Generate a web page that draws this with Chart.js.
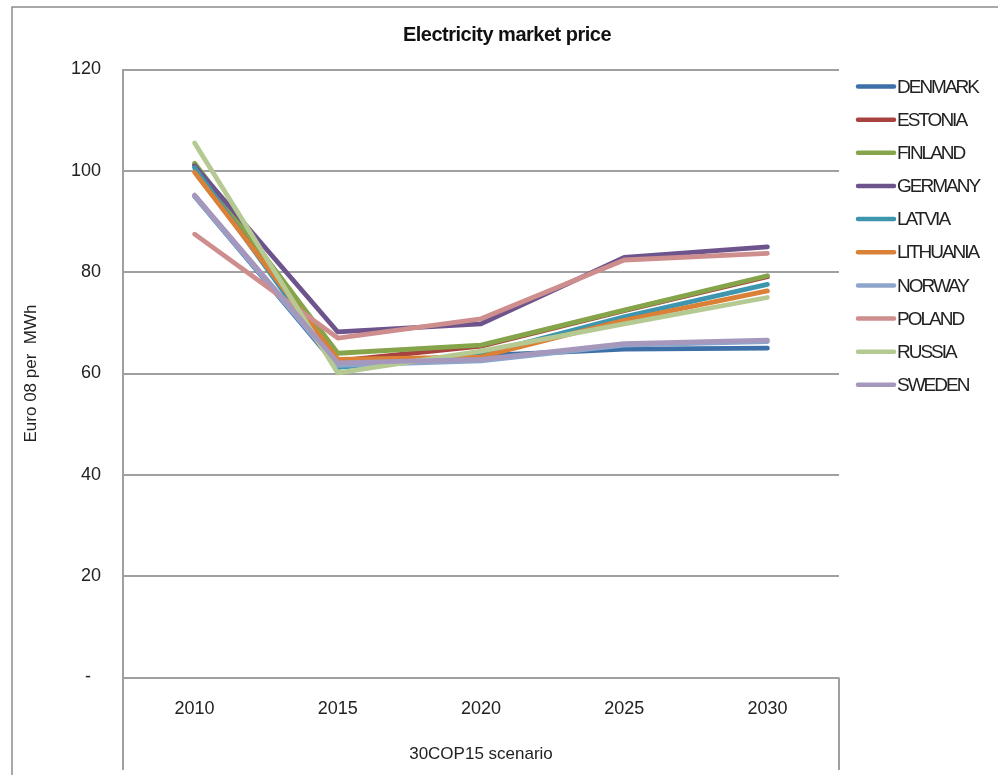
<!DOCTYPE html>
<html>
<head>
<meta charset="utf-8">
<title>Electricity market price</title>
<script src="https://cdn.jsdelivr.net/npm/chart.js@4.4.1/dist/chart.umd.min.js"></script>
<style>
    html, body { margin: 0; padding: 0; background: #fff; }
    canvas { display: block; }
</style>
</head>
<body>
<canvas id="priceChart" width="998" height="775"></canvas>
<script>
const years = ['2010', '2015', '2020', '2025', '2030'];

const denmark   = [95.0, 61.3, 63.5, 64.8, 65.0];
const estonia   = [101.2, 62.5, 65.4, 72.4, 79.1];
const finland   = [101.5, 64.0, 65.6, 72.5, 79.3];
const germany   = [101.0, 68.2, 69.8, 82.9, 85.0];
const latvia    = [100.6, 61.2, 63.8, 71.2, 77.6];
const lithuania = [99.7, 62.8, 63.3, 70.5, 76.3];
const norway    = [95.0, 61.6, 62.5, 65.6, 66.3];
const poland    = [87.5, 67.0, 70.8, 82.4, 83.7];
const russia    = [105.5, 60.1, 64.4, 69.8, 75.0];
const sweden    = [95.2, 62.1, 62.8, 65.9, 66.6];

const countries = ['DENMARK', 'ESTONIA', 'FINLAND', 'GERMANY', 'LATVIA',
    'LITHUANIA', 'NORWAY', 'POLAND', 'RUSSIA', 'SWEDEN'];
const seriesValues = [denmark, estonia, finland, germany, latvia,
    lithuania, norway, poland, russia, sweden];
const lineColors = ['#3d6fa8', '#a8423f', '#86a44a', '#6e548d', '#3d96ae',
    '#da8137', '#8ea5cb', '#ce8e8d', '#b5ca92', '#a598bc'];

const chartTitle = 'Electricity market price';
const yMin = 0;
const yMax = 120;
const yStep = 20;

const gridGrey = '#a0a0a0';
Chart.defaults.font.family = '"Liberation Sans", Arial, sans-serif';
Chart.defaults.color = '#222';

// title + legend drawn by hand so they can sit over the whole page width
const sideLegend = {
    id: 'sideLegend',
    afterDraw(chart) {
        const ctx = chart.ctx;
        const area = chart.chartArea;
        ctx.save();
        ctx.font = 'bold 20px "Liberation Sans", Arial, sans-serif';
        ctx.fillStyle = '#111';
        ctx.textAlign = 'center';
        ctx.textBaseline = 'middle';
        ctx.letterSpacing = '-0.5px';
        ctx.fillText(chartTitle, 507, 35);

        const x0 = area.right + 19;
        ctx.font = '19px "Liberation Sans", Arial, sans-serif';
        ctx.letterSpacing = '-2px';
        ctx.textAlign = 'left';
        ctx.fillStyle = '#222';
        chart.data.datasets.forEach((ds, i) => {
            const y = area.top + 17 + i * 33.15;
            ctx.strokeStyle = ds.borderColor;
            ctx.lineWidth = 4.5;
            ctx.lineCap = 'round';
            ctx.beginPath();
            ctx.moveTo(x0, y);
            ctx.lineTo(x0 + 36, y);
            ctx.stroke();
            ctx.fillText(ds.label, x0 + 39, y + 1);
        });
        ctx.restore();
    }
};

// outer frame and the axis lines that run down past the category labels
const frameLines = {
    id: 'frameLines',
    beforeDraw(chart) {
        const ctx = chart.ctx;
        const area = chart.chartArea;
        ctx.save();
        ctx.strokeStyle = '#8c8c8c';
        ctx.lineWidth = 1.5;
        ctx.beginPath();
        ctx.moveTo(chart.width, 7);
        ctx.lineTo(12, 7);
        ctx.lineTo(12, chart.height);
        ctx.stroke();
        ctx.strokeStyle = gridGrey;
        ctx.lineWidth = 2;
        ctx.beginPath();
        ctx.moveTo(area.left, area.bottom);
        ctx.lineTo(area.left, 770);
        ctx.moveTo(area.right, area.bottom);
        ctx.lineTo(area.right, 770);
        ctx.stroke();
        ctx.restore();
    }
};

const ctx = document.getElementById('priceChart').getContext('2d');
const priceChart = new Chart(ctx, {
    type: 'line',
    data: {
        labels: years,
        datasets: countries.map((name, i) => ({
            label: name,
            data: seriesValues[i],
            borderColor: lineColors[i],
            backgroundColor: lineColors[i],
            borderWidth: 4.8,
            borderJoinStyle: 'round',
            borderCapStyle: 'round',
            pointRadius: 0,
            tension: 0,
            fill: false,
            order: countries.length - i,
        })),
    },
    options: {
        responsive: false,
        animation: false,
        devicePixelRatio: 1,
        layout: {
            padding: { left: 0, right: 159, top: 69.5, bottom: 0 },
        },
        plugins: {
            legend: { display: false },
            tooltip: { enabled: false },
            title: { display: false },
        },
        scales: {
            x: {
                offset: true,
                grid: { display: false, drawTicks: false },
                border: { display: false },
                ticks: { font: { size: 18 }, padding: 21, color: '#222' },
                title: {
                    display: true,
                    text: '30COP15 scenario',
                    font: { size: 17 },
                    color: '#222',
                    padding: { top: 0, bottom: 10 },
                },
                afterFit(scale) {
                    scale.height = 97.5;
                },
            },
            y: {
                min: yMin,
                max: yMax,
                ticks: {
                    stepSize: yStep,
                    font: { size: 18 },
                    padding: 22,
                    color: '#222',
                    callback: v => (v === 0 ? '-  ' : v),
                },
                grid: { color: gridGrey, lineWidth: 2, drawTicks: false },
                border: { display: true, color: gridGrey, width: 2 },
                title: {
                    display: true,
                    text: 'Euro 08 per  MWh',
                    font: { size: 17 },
                    color: '#222',
                    padding: { top: 21, bottom: 0 },
                },
                afterFit(scale) {
                    scale.width = 123;
                },
            },
        },
    },
    plugins: [frameLines, sideLegend],
});
</script>
</body>
</html>
